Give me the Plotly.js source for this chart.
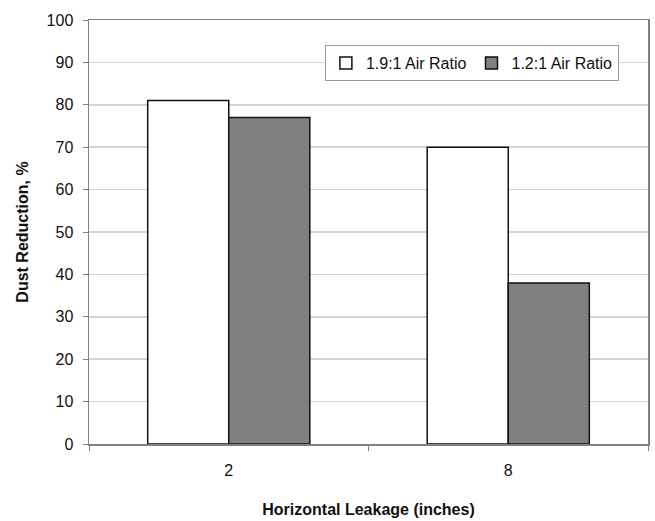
<!DOCTYPE html>
<html>
<head>
<meta charset="utf-8">
<script src="https://cdn.plot.ly/plotly-3.0.1.min.js"></script>
<style>html,body{margin:0;padding:0;background:#fff;}#chart{width:655px;height:521px;}</style>
</head>
<body>
<div id="chart"></div>
<script>
var categories = ["2", "8"];
var seriesNames = ["1.9:1 Air Ratio", "1.2:1 Air Ratio"];
var ratio19 = [81, 70];
var ratio12 = [77, 38];
var yTicks = [0, 10, 20, 30, 40, 50, 60, 70, 80, 90, 100];

var fam = "Liberation Sans, Arial, sans-serif";
var tickFont = {family: fam, size: 16, color: "#111"};
var titleFont = {family: fam, size: 16, color: "#111"};
var legendFont = {family: fam, size: 16, color: "#111"};

var traces = [
  {type: "bar", name: seriesNames[0], x: categories, y: ratio19,
   marker: {color: "#ffffff", line: {color: "#111", width: 1.5}}},
  {type: "bar", name: seriesNames[1], x: categories, y: ratio12,
   marker: {color: "#808080", line: {color: "#111", width: 1.5}}}
];

var layout = {
  width: 655, height: 521,
  margin: {l: 89, r: 7, t: 20, b: 77},
  paper_bgcolor: "#fff", plot_bgcolor: "#fff",
  font: tickFont,
  barmode: "group",
  bargap: 0.42, bargroupgap: 0,
  showlegend: true,
  legend: {orientation: "h", x: 0.422, y: 0.941, xanchor: "left", yanchor: "top",
           bordercolor: "#999", borderwidth: 1, bgcolor: "#fff",
           font: legendFont, itemwidth: 30, traceorder: "normal"},
  xaxis: {
    type: "category",
    showline: true, linecolor: "#808080", linewidth: 1.5, mirror: true,
    ticks: "outside", ticklen: 5, tickcolor: "#808080", tickson: "boundaries",
    showgrid: false, tickfont: tickFont, ticklabelstandoff: 11,
    title: {text: "<b>Horizontal Leakage (inches)</b>", font: titleFont, standoff: 26}
  },
  yaxis: {
    range: [0, 100], tickvals: yTicks, ticktext: yTicks.map(String),
    showline: true, linecolor: "#808080", linewidth: 1.5, mirror: true,
    ticks: "outside", ticklen: 5, tickcolor: "#808080",
    showgrid: true, gridcolor: "#d4d4d4", gridwidth: 1.5, zeroline: false,
    tickfont: tickFont, ticklabelstandoff: 6,
    title: {text: "<b>Dust Reduction, %</b>", font: titleFont, standoff: 14}
  }
};

Plotly.newPlot("chart", traces, layout, {displayModeBar: false, staticPlot: true});
</script>
</body>
</html>
